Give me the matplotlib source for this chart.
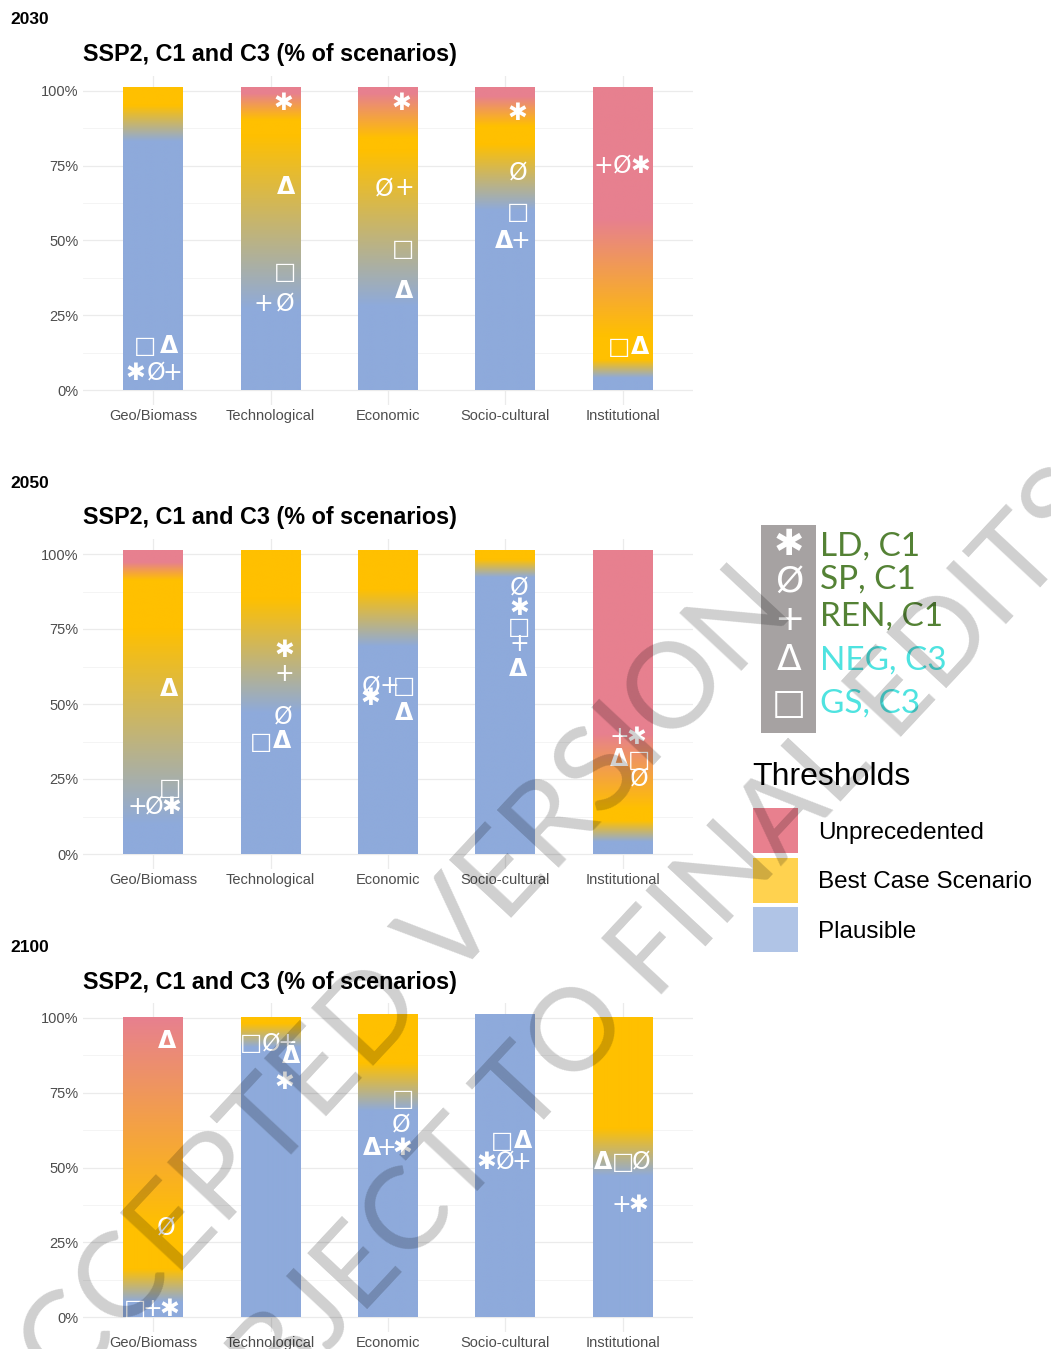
import numpy as np
import matplotlib.pyplot as plt
from matplotlib.colors import to_rgb
from matplotlib.patches import Rectangle

W, H = 1051, 1349

years = ["2030", "2050", "2100"]
categories = ["Geo/Biomass", "Technological", "Economic", "Socio-cultural", "Institutional"]
title = "SSP2, C1 and C3 (% of scenarios)"
y_ticks = [0, 25, 50, 75, 100]
y_tick_labels = ["0%", "25%", "50%", "75%", "100%"]

# threshold band stops per bar, bottom to top: (percent of scenarios, band)
# P = Plausible, B = Best Case Scenario, U = Unprecedented
bands_2030 = [
    [(0, "P"), (83, "P"), (95, "B"), (101, "B")],
    [(0, "P"), (27, "P"), (85, "B"), (90, "B"), (99, "U"), (101, "U")],
    [(0, "P"), (28, "P"), (80, "B"), (84, "B"), (99, "U"), (101, "U")],
    [(0, "P"), (60, "P"), (82, "B"), (88, "B"), (98, "U"), (101, "U")],
    [(0, "P"), (4, "P"), (10, "B"), (18, "B"), (57, "U"), (101, "U")],
]
bands_2050 = [
    [(0, "P"), (10, "P"), (75, "B"), (91, "B"), (97, "U"), (101, "U")],
    [(0, "P"), (47, "P"), (85, "B"), (101, "B")],
    [(0, "P"), (69, "P"), (88, "B"), (101, "B")],
    [(0, "P"), (92, "P"), (98, "B"), (101, "B")],
    [(0, "P"), (4, "P"), (11, "B"), (15, "B"), (40, "U"), (101, "U")],
]
bands_2100 = [
    [(0, "P"), (5, "P"), (16, "B"), (30, "B"), (100, "U")],
    [(0, "P"), (90, "P"), (98, "B"), (100, "B")],
    [(0, "P"), (69, "P"), (85, "B"), (101.3, "B")],
    [(0, "P"), (101.3, "P")],
    [(0, "P"), (47, "P"), (63, "B"), (100, "B")],
]

# scenario markers: (category index, scenario, % of scenarios)
marks_2030 = [
    (0, "GS", 14.7), (0, "NEG", 14.7), (0, "LD", 5.7), (0, "SP", 5.7), (0, "REN", 5.7),
    (1, "LD", 96), (1, "NEG", 68), (1, "GS", 39.5), (1, "REN", 28.8), (1, "SP", 28.8),
    (2, "LD", 96), (2, "SP", 67.5), (2, "REN", 67.5), (2, "GS", 47), (2, "NEG", 33),
    (3, "LD", 92.6), (3, "SP", 72.6), (3, "GS", 59.5), (3, "NEG", 50), (3, "REN", 50),
    (4, "REN", 75), (4, "SP", 75), (4, "LD", 75), (4, "GS", 14.5), (4, "NEG", 14.5),
]
marks_2050 = [
    (0, "NEG", 55), (0, "GS", 22), (0, "REN", 15.7), (0, "SP", 15.7), (0, "LD", 15.7),
    (1, "LD", 68), (1, "REN", 60), (1, "SP", 46), (1, "GS", 37.5), (1, "NEG", 37.5),
    (2, "SP", 56), (2, "REN", 56), (2, "GS", 56), (2, "LD", 52), (2, "NEG", 47),
    (3, "SP", 88.7), (3, "LD", 82), (3, "GS", 75.7), (3, "REN", 70), (3, "NEG", 61.7),
    (4, "REN", 39), (4, "LD", 39), (4, "NEG", 31.5), (4, "GS", 31.5), (4, "SP", 25),
]
marks_2100 = [
    (0, "NEG", 92.3), (0, "SP", 30), (0, "GS", 2.7), (0, "REN", 2.7), (0, "LD", 2.7),
    (1, "GS", 91.6), (1, "SP", 91.6), (1, "REN", 91.6), (1, "NEG", 87.3), (1, "LD", 78.6),
    (2, "GS", 73), (2, "SP", 64.5), (2, "NEG", 56.5), (2, "REN", 56.5), (2, "LD", 56.5),
    (3, "GS", 59), (3, "NEG", 59), (3, "LD", 52), (3, "SP", 52), (3, "REN", 52),
    (4, "NEG", 52), (4, "GS", 52), (4, "SP", 52), (4, "REN", 37.5), (4, "LD", 37.5),
]

scenarios = ["LD", "SP", "REN", "NEG", "GS"]
scenario_labels = ["LD, C1", "SP, C1", "REN, C1", "NEG, C3", "GS, C3"]
thresholds = ["Unprecedented", "Best Case Scenario", "Plausible"]

# ---- layout / style ----
glyph = {"LD": "\u2731", "SP": "\u00d8", "REN": "+", "NEG": "\u0394", "GS": "\u25a1"}
glyph_weight = {"LD": "normal", "SP": "normal", "REN": "normal", "NEG": "bold", "GS": "bold"}
band_rgb = {"P": to_rgb("#8EAADB"), "B": to_rgb("#FFC000"), "U": to_rgb("#E7808F")}
legend_fill = ["#E8808E", "#FFD24F", "#B0C4E6"]
label_col = ["#548235", "#548235", "#548235", "#4FE3E0", "#4FE3E0"]

# horizontal dodge of each marker from its bar centre (x units)
dx_2030 = [-0.07, 0.13, -0.15, 0.02, 0.16,
           0.11, 0.13, 0.12, -0.06, 0.12,
           0.11, -0.03, 0.14, 0.13, 0.14,
           0.10, 0.11, 0.11, -0.01, 0.13,
           -0.16, 0.0, 0.15, -0.03, 0.15]
dx_2050 = [0.13, 0.14, -0.14, 0.01, 0.15,
           0.12, 0.12, 0.11, -0.08, 0.10,
           -0.14, 0.01, 0.14, -0.15, 0.14,
           0.12, 0.12, 0.12, 0.12, 0.11,
           -0.03, 0.12, -0.03, 0.14, 0.14]
dx_2100 = [0.12, 0.11, -0.16, -0.01, 0.14,
           -0.17, 0.0, 0.14, 0.17, 0.12,
           0.13, 0.11, -0.14, -0.01, 0.12,
           -0.03, 0.15, -0.16, 0.0, 0.14,
           -0.17, 0.0, 0.16, -0.01, 0.13]

panel_bands = [bands_2030, bands_2050, bands_2100]
panel_marks = [marks_2030, marks_2050, marks_2100]
panel_dx = [dx_2030, dx_2050, dx_2100]
panel_top = [76, 539, 1003]      # px, top of plotting area
panel_bot = [405, 869, 1332]
year_y = [20, 484, 948]
title_y = [55, 518, 982]

sym_font = ["DejaVu Sans"]
plain = "Liberation Sans"


def fx(x):
    return x / W


def fy(y):
    return 1 - y / H


def band_column(stops, n=600):
    top = stops[-1][0]
    y = np.linspace(0, top, n)
    pos = [s[0] for s in stops]
    cols = np.array([band_rgb[s[1]] for s in stops])
    img = np.stack([np.interp(y, pos, cols[:, c]) for c in range(3)], axis=-1)
    return img[:, None, :], top


fig = plt.figure(figsize=(W / 100, H / 100), dpi=100)

for p in range(3):
    ax = fig.add_axes([fx(83), fy(panel_bot[p]), (693 - 83) / W,
                       (panel_bot[p] - panel_top[p]) / H])
    for i, stops in enumerate(panel_bands[p]):
        img, top = band_column(stops)
        xc = i + 1
        ax.imshow(img, extent=(xc - 0.255, xc + 0.255, 0, top), origin="lower",
                  aspect="auto", interpolation="bilinear", zorder=2)
    for (ci, sc, v), d in zip(panel_marks[p], panel_dx[p]):
        ax.text(ci + 1 + d, v, glyph[sc], color="white", fontsize=17,
                weight=glyph_weight[sc], family=sym_font,
                ha="center", va="center", zorder=4)

    ax.set_xlim(0.4, 5.6)
    ax.set_ylim(-5, 105)
    ax.set_xticks(range(1, 6))
    ax.set_xticklabels(categories, family=plain, fontsize=10.5, color="#4D4D4D")
    ax.set_yticks(y_ticks)
    ax.set_yticklabels(y_tick_labels, family=plain, fontsize=10.5, color="#4D4D4D")
    ax.set_yticks([12.5, 37.5, 62.5, 87.5], minor=True)
    ax.grid(True, which="major", color="#EBEBEB", lw=0.9)
    ax.grid(True, which="minor", axis="y", color="#F3F3F3", lw=0.6)
    ax.tick_params(length=0, pad=3)
    ax.tick_params(which="minor", length=0)
    ax.set_axisbelow(True)
    for s in ax.spines.values():
        s.set_visible(False)

    fig.text(fx(10), fy(year_y[p]), years[p], fontsize=12.5, weight="bold",
             family=plain, ha="left", va="center")
    fig.text(fx(83), fy(title_y[p]), title, fontsize=16.8, weight="bold",
             family=plain, ha="left", va="center")

# scenario key
fig.add_artist(Rectangle((fx(761), fy(733)), (816 - 761) / W, (733 - 525) / H,
                         transform=fig.transFigure, color="#A6A2A2", lw=0))
key_sym_y = [545, 582, 620, 660, 704]
key_lab_y = [547, 580, 617, 661, 704]
for k, sc in enumerate(scenarios):
    fig.text(fx(789), fy(key_sym_y[k]), glyph[sc], color="white", fontsize=26,
             family=sym_font, ha="center", va="center")
    fig.text(fx(820), fy(key_lab_y[k]), scenario_labels[k], color=label_col[k],
             fontsize=24, family="Lato", ha="left", va="center")

# thresholds legend
fig.text(fx(752), fy(777), "Thresholds", fontsize=23, family=plain,
         ha="left", va="center")
box_top = [808, 858, 907]
box_lab_y = [833, 882, 932]
for k, lab in enumerate(thresholds):
    fig.add_artist(Rectangle((fx(753), fy(box_top[k] + 45)), 45 / W, 45 / H,
                             transform=fig.transFigure, color=legend_fill[k], lw=0))
    fig.text(fx(818), fy(box_lab_y[k]), lab, fontsize=17.5, family=plain,
             ha="left", va="center")

# watermark
fig.text(fx(380), fy(1010), "ACCEPTED VERSION", fontsize=86, family="Lato",
         color="black", alpha=0.19, rotation=47, rotation_mode="anchor",
         ha="center", va="center", zorder=10)
fig.text(fx(620), fy(992), "SUBJECT TO FINAL EDITS", fontsize=83, family="Lato",
         color="black", alpha=0.19, rotation=47, rotation_mode="anchor",
         ha="center", va="center", zorder=10)

fig.savefig("out.png", dpi=100)
